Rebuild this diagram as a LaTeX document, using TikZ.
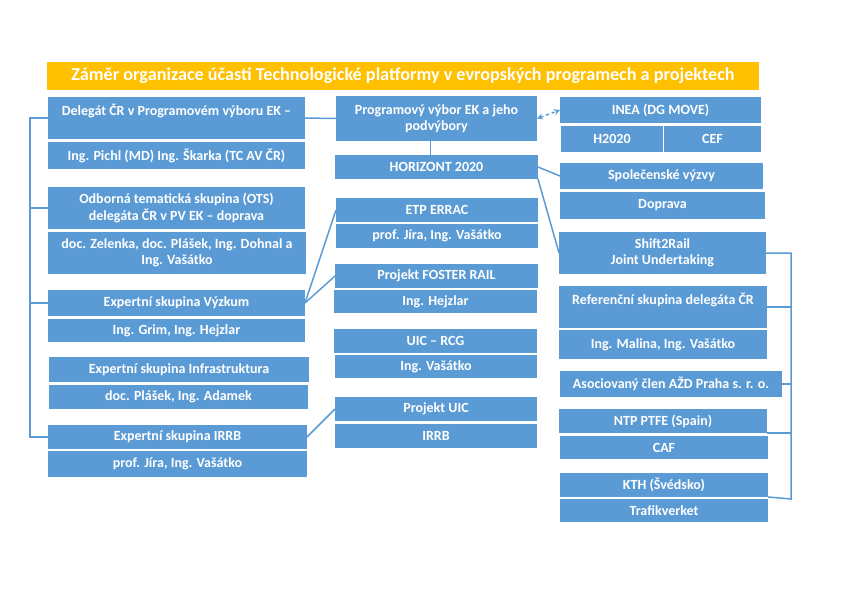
\documentclass[tikz,border=0pt]{standalone}
\usepackage{fontspec}
\setmainfont{Carlito}
\usepackage{tikz}
\usetikzlibrary{arrows.meta, positioning}
\definecolor{tpblue}{RGB}{91, 155, 213}
\definecolor{tpyellow}{RGB}{255, 192, 0}

\begin{document}
\begin{tikzpicture}[
  x=1pt, y=-1pt,
  node distance=2pt,
  box/.style={
    rectangle, anchor=north west, fill=tpblue,
    inner sep=0pt, outer sep=0pt,
    align=center, text=white,
    font=\bfseries\fontsize{14}{16.5}\selectfont
  },
  titlebox/.style={box, fill=tpyellow,
    font=\bfseries\fontsize{18.2}{21}\selectfont},
  link/.style={line width=1.5pt, color=tpblue},
  dlink/.style={link, dashed, {Stealth[length=6pt, width=6pt]}-{Stealth[length=6pt, width=6pt]}}
]
  \useasboundingbox (0,0) rectangle (842,595);

  \node[titlebox, minimum width=712, minimum height=28] (title) at (47,62) {Záměr organizace účasti Technologické platformy v evropských programech a projektech};

  \node[box, minimum width=257, minimum height=42] (del) at (48,97) {Delegát ČR v Programovém výboru EK –\\\mbox{}};
  \node[box, minimum width=257, minimum height=27] (delmem) at (48,142) {Ing. Pichl (MD) Ing. Škarka (TC AV ČR)};
  \node[box, minimum width=257, minimum height=42] (ots) at (48,187) {Odborná tematická skupina (OTS)\\delegáta ČR v PV EK – doprava};
  \node[box, minimum width=258, minimum height=42] (otsmem) at (48,232) {doc. Zelenka, doc. Plášek, Ing. Dohnal a\\Ing. Vašátko};
  \node[box, minimum width=257, minimum height=26] (vyz) at (48,290) {Expertní skupina Výzkum};
  \node[box, minimum width=257, minimum height=23] (vyzmem) at (48,319) {Ing. Grim, Ing. Hejzlar};
  \node[box, minimum width=260, minimum height=25] (inf) at (49,357) {Expertní skupina Infrastruktura};
  \node[box, minimum width=259, minimum height=24] (infmem) at (49,385) {doc. Plášek, Ing. Adamek};
  \node[box, minimum width=259, minimum height=24] (irrb) at (48,425) {Expertní skupina IRRB};
  \node[box, minimum width=259, minimum height=26] (irrbmem) at (48,451) {prof. Jíra, Ing. Vašátko};

  \node[box, minimum width=201, minimum height=45] (pv) at (336,96) {Programový výbor EK a jeho\\podvýbory};
  \node[box, minimum width=203, minimum height=24] (hor) at (335,155) {HORIZONT 2020};
  \node[box, minimum width=202, minimum height=24] (errac) at (336,198) {ETP ERRAC};
  \node[box, minimum width=202, minimum height=24] (erracmem) at (336,224) {prof. Jíra, Ing. Vašátko};
  \node[box, minimum width=203, minimum height=24] (foster) at (335,264) {Projekt FOSTER RAIL};
  \node[box, minimum width=203, minimum height=23] (fostermem) at (334,290) {Ing. Hejzlar};
  \node[box, minimum width=203, minimum height=24] (rcg) at (334,329) {UIC – RCG};
  \node[box, minimum width=202, minimum height=23] (rcgmem) at (335,355) {Ing. Vašátko};
  \node[box, minimum width=202, minimum height=24] (uic) at (335,397) {Projekt UIC};
  \node[box, minimum width=202, minimum height=24] (uicmem) at (335,424) {IRRB};

  \node[box, minimum width=201, minimum height=26] (inea) at (560,97) {INEA (DG MOVE)};
  \node[box, minimum width=102, minimum height=26] (h2020) at (561,126) {H2020};
  \node[box, minimum width=97, minimum height=26] (cef) at (664,126) {CEF};
  \node[box, minimum width=203, minimum height=26] (spol) at (560,163) {Společenské výzvy};
  \node[box, minimum width=205, minimum height=27] (dop) at (560,192) {Doprava};
  \node[box, minimum width=207, minimum height=42] (s2r) at (559,232) {Shift2Rail\\Joint Undertaking};
  \node[box, minimum width=208, minimum height=42] (ref) at (559,286) {Referenční skupina delegáta ČR\\\mbox{}};
  \node[box, minimum width=208, minimum height=29] (refmem) at (559,330) {Ing. Malina, Ing. Vašátko};
  \node[box, minimum width=222, minimum height=26] (aso) at (560,371) {Asociovaný člen AŽD Praha s. r. o.};
  \node[box, minimum width=208, minimum height=24] (ntp) at (559,409) {NTP PTFE (Spain)};
  \node[box, minimum width=208, minimum height=23] (caf) at (560,436) {CAF};
  \node[box, minimum width=208, minimum height=24] (kth) at (560,473) {KTH (Švédsko)};
  \node[box, minimum width=208, minimum height=23] (traf) at (560,499) {Trafikverket};

  \coordinate (ltop) at (30,118);
  \coordinate (rtop) at (791,253);
  \coordinate (rbot) at (791,499);

  \draw[link] (del.west) -- (ltop) |- (irrb.west);
  \draw[link] (ots.west) -- (ots.west -| ltop);
  \draw[link] (vyz.west) -- (vyz.west -| ltop);

  \draw[link] (del.east) -- (pv.west);
  \draw[link] ([xshift=-6pt]pv.south) -- ([xshift=-6pt]hor.north);
  \draw[dlink] (pv.east) -- (inea.west);
  \draw[link] (hor.east) -- (spol.west);
  \draw[link] (hor.south east) -- (s2r.west);
  \draw[link] (vyz.east) -- (errac.west);
  \draw[link] (vyz.east) -- (foster.west);
  \draw[link] (irrb.east) -- (uic.west);

  \draw[link] (s2r.east) -- (rtop) -- (rbot) -- (kth.south east);
  \draw[link] (ref.east) -- (ref.east -| rtop);
  \draw[link] (aso.east) -- (aso.east -| rtop);
  \draw[link] (ntp.south east) -- (ntp.south east -| rtop);
\end{tikzpicture}
\end{document}
